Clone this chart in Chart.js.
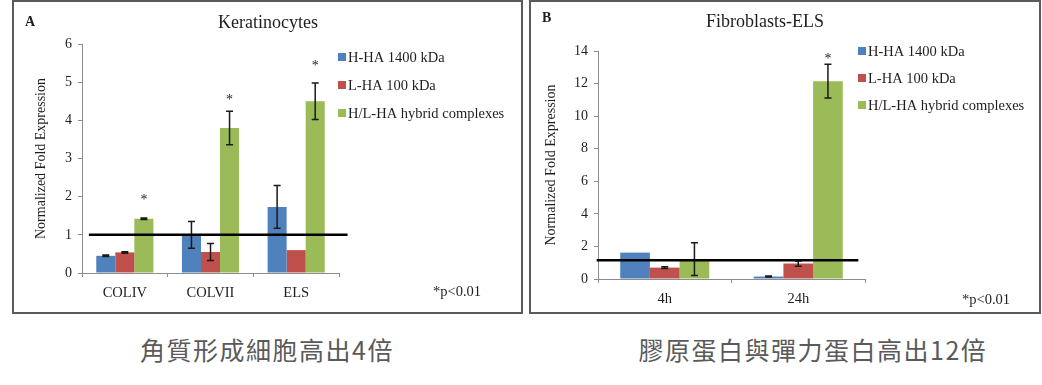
<!doctype html>
<html lang="zh-Hant">
<head>
<meta charset="utf-8">
<title>HA expression</title>
<script src="https://cdn.jsdelivr.net/npm/chart.js@4.4.1/dist/chart.umd.min.js"></script>
<style>
  * { margin: 0; padding: 0; }
  body { width: 1042px; height: 385px; background: #fff; position: relative; overflow: hidden; }
  .box { position: absolute; top: 0; height: 314px; border: 2px solid #5a5a5a; box-sizing: border-box; pointer-events: none; }
  #boxA { left: 12px; width: 511px; }
  #boxB { left: 529px; width: 512px; }
  canvas { position: absolute; top: 0; }
  #chartA { left: 0; }
  #chartB { left: 526px; }
  .cap { position: absolute; top: 331px; font-family: "Noto Sans CJK TC", sans-serif; font-size: 25px; letter-spacing: 1.5px; color: #5a5a5a; white-space: nowrap; transform: translateX(-50%); }
</style>
</head>
<body>
<canvas id="chartA" width="521" height="315"></canvas>
<canvas id="chartB" width="516" height="315"></canvas>
<div class="box" id="boxA"></div>
<div class="box" id="boxB"></div>
<div class="cap" style="left:267px">角質形成細胞高出4倍</div>
<div class="cap" style="left:813px">膠原蛋白與彈力蛋白高出12倍</div>
<script>
// series names
const seriesNames = ['H-HA 1400 kDa', 'L-HA 100 kDa', 'H/L-HA hybrid complexes'];
const seriesColors = ['#4f81bd', '#c0504d', '#9bbb59'];

// panel A - keratinocytes
const catsA = ['COLIV', 'COLVII', 'ELS'];
const hhaA = [0.45, 1.0, 1.73];
const lhaA = [0.54, 0.55, 0.6];
const hybA = [1.42, 3.8, 4.5];
const errHhaA = [0.02, 0.35, 0.56];
const errLhaA = [0.02, 0.22, 0];
const errHybA = [0.02, 0.44, 0.48];
const starA = [2.0, 4.62, 5.5];
const refA = 1;

// panel B - fibroblasts
const catsB = ['4h', '24h'];
const hhaB = [1.62, 0.15];
const lhaB = [0.7, 0.95];
const hybB = [1.22, 12.15];
const errHhaB = [0, 0.03];
const errLhaB = [0.05, 0.16];
const errHybB = [1.0, 1.03];
const starB = [null, 13.7];
const refB = 1.15;

const serif = '"Liberation Serif", "Times New Roman", serif';
const txt = '#1e1e1e';

const marks = {
  id: 'marks',
  afterDatasetsDraw(chart, args, o) {
    const ctx = chart.ctx, x = chart.scales.x, y = chart.scales.y;
    ctx.save();
    // error bars
    ctx.strokeStyle = '#1a1a1a';
    ctx.lineWidth = 1.5;
    chart.data.datasets.forEach((ds, i) => {
      chart.getDatasetMeta(i).data.forEach((bar, j) => {
        const e = o.errors[i][j];
        if (!e) return;
        const t = y.getPixelForValue(ds.data[j] + e);
        const b = y.getPixelForValue(ds.data[j] - e);
        ctx.beginPath();
        ctx.moveTo(bar.x, t); ctx.lineTo(bar.x, b);
        ctx.moveTo(bar.x - 3.5, t); ctx.lineTo(bar.x + 3.5, t);
        ctx.moveTo(bar.x - 3.5, b); ctx.lineTo(bar.x + 3.5, b);
        ctx.stroke();
      });
    });
    // reference line
    const ry = y.getPixelForValue(o.ref.value);
    ctx.strokeStyle = '#000';
    ctx.lineWidth = 2.5;
    ctx.beginPath();
    ctx.moveTo(x.getPixelForValue(o.ref.from), ry);
    ctx.lineTo(x.getPixelForValue(o.ref.to), ry);
    ctx.stroke();
    // significance stars on the hybrid series
    ctx.fillStyle = txt;
    ctx.font = '14px ' + serif;
    ctx.textAlign = 'center';
    ctx.textBaseline = 'alphabetic';
    chart.getDatasetMeta(2).data.forEach((bar, j) => {
      if (o.stars[j] == null) return;
      ctx.fillText('*', bar.x, y.getPixelForValue(o.stars[j]) + 7);
    });
    ctx.restore();
  },
  afterDraw(chart, args, o) {
    const ctx = chart.ctx;
    ctx.save();
    ctx.fillStyle = txt;
    ctx.textBaseline = 'middle';
    ctx.font = '18px ' + serif;
    ctx.textAlign = 'center';
    ctx.fillText(o.title, o.titleX, o.titleY);
    ctx.font = 'bold 14px ' + serif;
    ctx.textAlign = 'left';
    ctx.fillText(o.letter, o.letterX, o.letterY);
    ctx.font = '14.5px ' + serif;
    ctx.fillText('*p<0.01', o.pX, o.pY);
    // legend
    seriesNames.forEach((n, i) => {
      const ly = o.legY + i * o.legGap;
      ctx.fillStyle = seriesColors[i];
      ctx.fillRect(o.legX, ly - 4, 8, 8);
      ctx.fillStyle = txt;
      ctx.fillText(n, o.legX + 10, ly + 1);
    });
    ctx.restore();
  }
};

function makeChart(id, cats, vals, errs, stars, ref, ymax, step, pad, yWidth, xHeight, text) {
  return new Chart(document.getElementById(id), {
    type: 'bar',
    data: {
      labels: cats,
      datasets: vals.map((v, i) => ({
        label: seriesNames[i],
        data: v,
        backgroundColor: seriesColors[i],
        categoryPercentage: 0.667,
        barPercentage: 1
      }))
    },
    options: {
      responsive: false,
      animation: false,
      layout: { padding: pad },
      plugins: {
        legend: { display: false },
        tooltip: { enabled: false },
        marks: Object.assign({ errors: errs, stars: stars, ref: ref }, text)
      },
      scales: {
        x: {
          grid: { drawOnChartArea: false, tickLength: 4, color: '#8c8c8c' },
          border: { color: '#8c8c8c' },
          ticks: { color: txt, font: { family: serif, size: 14.5 }, padding: 7, maxRotation: 0 },
          afterFit(s) { s.height = xHeight; }
        },
        y: {
          min: 0, max: ymax,
          grid: { drawOnChartArea: false, tickLength: 4, color: '#8c8c8c' },
          border: { color: '#8c8c8c' },
          ticks: { stepSize: step, color: txt, font: { family: serif, size: 14 }, padding: 6 },
          title: { display: true, text: 'Normalized Fold Expression', color: txt, font: { family: serif, size: 14 }, padding: 4 },
          afterFit(s) { s.width = yWidth; }
        }
      }
    },
    plugins: [marks]
  });
}

makeChart('chartA', catsA, [hhaA, lhaA, hybA], [errHhaA, errLhaA, errHybA], starA,
  { value: refA, from: -0.42, to: 2.6 }, 6, 1,
  { left: 29, top: 44, right: 182, bottom: 0 }, 53, 42,
  { title: 'Keratinocytes', titleX: 268, titleY: 23, letter: 'A', letterX: 25, letterY: 22,
    pX: 433, pY: 292, legX: 338, legY: 57, legGap: 28 });

makeChart('chartB', catsB, [hhaB, lhaB, hybB], [errHhaB, errLhaB, errHybB], starB,
  { value: refB, from: -0.51, to: 1.45 }, 14, 2,
  { left: 13, top: 51, right: 177, bottom: 0 }, 59, 36,
  { title: 'Fibroblasts-ELS', titleX: 239, titleY: 22, letter: 'B', letterX: 16, letterY: 18,
    pX: 436, pY: 300, legX: 332, legY: 51, legGap: 27 });
</script>
</body>
</html>
